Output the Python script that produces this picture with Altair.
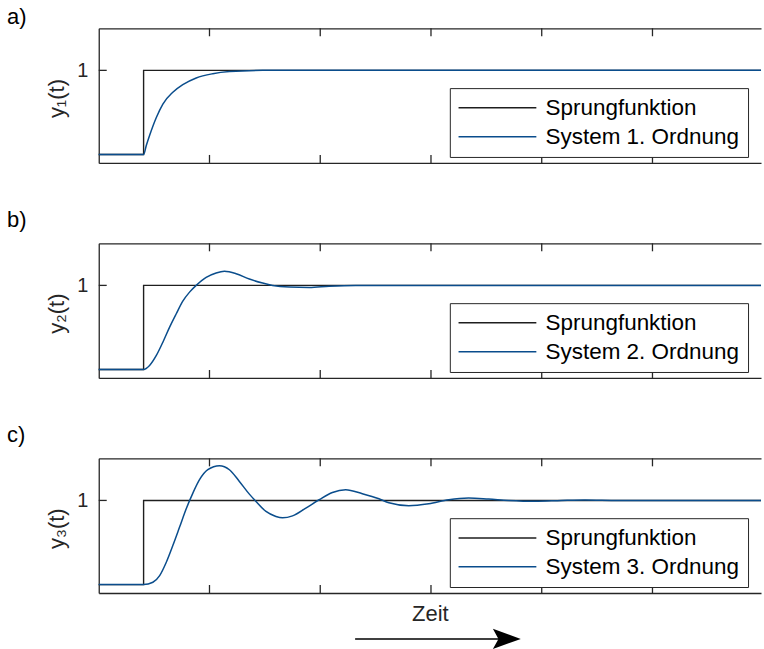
import altair as alt
import pandas as pd

# ---------------- data ----------------
series_names = ["Sprungfunktion", "System 1. Ordnung", "System 2. Ordnung", "System 3. Ordnung"]
panel_tags = ["a)", "b)", "c)"]
y_titles = ["y\u2081(t)", "y\u2082(t)", "y\u2083(t)"]
x_title = "Zeit"

x_domain = [0, 5.98]
y_domain = [-0.1, 1.5]
x_ticks = [1, 2, 3, 4, 5]
y_ticks = [1]

step_t = [0.0, 0.405, 0.405, 5.98]
step_y = [0.0, 0.0, 1.0, 1.0]

sys1_t = [0.0, 0.405, 0.43, 0.459, 0.52, 0.579, 0.669, 0.759, 0.88, 1.03, 1.18, 1.48, 5.98]
sys1_y = [0.0, 0.0, 0.11, 0.226, 0.44, 0.60, 0.74, 0.83, 0.91, 0.96, 0.985, 1.0, 1.0]

sys2_t = [0.0, 0.405, 0.459, 0.52, 0.579, 0.64, 0.70, 0.759, 0.82, 0.88, 0.97, 1.06,
          1.135, 1.24, 1.36, 1.48, 1.57, 1.72, 1.90, 2.08, 2.32, 5.98]
sys2_y = [0.0, 0.0, 0.048, 0.167, 0.325, 0.504, 0.663, 0.813, 0.92, 1.0, 1.095, 1.147,
          1.167, 1.139, 1.075, 1.028, 1.0, 0.98, 0.975, 0.99, 1.0, 1.0]

sys3_t = [0.0, 0.405, 0.489, 0.55, 0.61, 0.669, 0.73, 0.79, 0.85, 0.91, 0.985, 1.09,
          1.18, 1.27, 1.36, 1.42, 1.51, 1.60, 1.66, 1.75, 1.87, 1.99, 2.11, 2.23,
          2.38, 2.53, 2.62, 2.80, 2.98, 3.16, 3.34, 3.52, 3.70, 3.94, 4.18, 4.39,
          4.69, 5.98]
sys3_y = [0.0, 0.0, 0.028, 0.107, 0.266, 0.464, 0.683, 0.901, 1.087, 1.246, 1.365, 1.413,
          1.365, 1.226, 1.075, 0.988, 0.869, 0.81, 0.794, 0.817, 0.909, 1.008, 1.095, 1.127,
          1.08, 1.02, 0.972, 0.937, 0.96, 1.008, 1.028, 1.016, 1.0, 0.99, 1.0, 1.006,
          1.0, 1.0]

arrow_t = [2.315, 3.64]
arrow_head_t = [3.685]

systems = [(sys1_t, sys1_y), (sys2_t, sys2_y), (sys3_t, sys3_y)]

# ---------------- styling ----------------
W, H = 664, 135
BLUE = "#0A4D8C"
BLACK = "#1E1E1E"
AX = "#262626"
FONT = "Liberation Sans"
tag_y = [-4, -16.5, -16.5]


def panel(i):
    sys_t, sys_y = systems[i]
    name = series_names[i + 1]
    step_df = pd.DataFrame({"t": step_t, "y": step_y, "k": list(range(len(step_t))),
                            "s": series_names[0]})
    sys_df = pd.DataFrame({"t": sys_t, "y": sys_y, "k": list(range(len(sys_t))), "s": name})

    xs = alt.Scale(domain=x_domain, nice=False, zero=False)
    ys = alt.Scale(domain=y_domain, nice=False, zero=False)

    color = alt.Color(
        "s:N",
        sort=[series_names[0], name],
        scale=alt.Scale(domain=[series_names[0], name], range=[BLACK, BLUE]),
        legend=alt.Legend(
            title=None, orient="none", legendX=352, legendY=60, direction="vertical",
            symbolType="M -6 0 L 6 0", symbolSize=169, symbolStrokeWidth=1.5,
            symbolOffset=28, labelOffset=37,
            labelFont=FONT, labelFontSize=22.5, labelColor="#000000", labelLimit=400,
            strokeColor=AX, fillColor="white", padding=8.5, rowPadding=6,
        ),
    )

    bottom_kw = dict(orient="bottom", labels=False, ticks=False, tickSize=0, grid=False,
                     domain=True, domainColor=AX, domainWidth=1.3)
    if i == 2:
        bottom_kw.update(title=x_title, titleFont=FONT, titleFontSize=22,
                         titleFontWeight="normal", titleColor=AX, titlePadding=11)
    else:
        bottom_kw.update(title=None)

    left_axis = alt.Axis(
        orient="left", values=y_ticks, labels=True, ticks=False, tickSize=0, grid=False,
        domain=True, domainColor=AX, domainWidth=1.3,
        labelFont=FONT, labelFontSize=20, labelColor=AX, labelPadding=11,
        title=y_titles[i], titleFont=FONT, titleFontSize=22, titleFontWeight="normal",
        titleColor=AX, titleAngle=270, titleX=-42, titleY=70,
        titleBaseline="middle", titleAlign="center",
    )
    y_enc = alt.Y("y:Q", scale=ys, axis=left_axis)

    step = alt.Chart(step_df).mark_line(strokeWidth=1.4).encode(
        x=alt.X("t:Q", scale=xs, axis=alt.Axis(**bottom_kw)),
        y=y_enc,
        color=color,
        order=alt.Order("k:Q"),
    )
    sys = alt.Chart(sys_df).mark_line(strokeWidth=1.5, interpolate="monotone").encode(
        x=alt.X("t:Q", scale=xs, axis=None),
        y=y_enc,
        color=color,
        order=alt.Order("k:Q"),
    )

    ticks_df = pd.DataFrame({"t": x_ticks})
    bottom_ticks = alt.Chart(ticks_df).mark_rule(color=AX, strokeWidth=1.3).encode(
        x=alt.X("t:Q", scale=xs, axis=None),
        y=alt.value(H), y2=alt.value(H - 8),
    )
    top_ticks = alt.Chart(ticks_df).mark_rule(color=AX, strokeWidth=1.3).encode(
        x=alt.X("t:Q", scale=xs, axis=alt.Axis(orient="top", labels=False, ticks=False,
                                                tickSize=0, grid=False, domain=True,
                                                domainColor=AX, domainWidth=1.3, title=None)),
        y=alt.value(0), y2=alt.value(8),
    )
    ytick = alt.Chart(pd.DataFrame({"y": y_ticks})).mark_rule(color=AX, strokeWidth=1.3).encode(
        y=y_enc,
        x=alt.value(0), x2=alt.value(8),
    )
    tag = alt.Chart(pd.DataFrame({"tag": [panel_tags[i]]})).mark_text(
        align="left", baseline="alphabetic", font=FONT, fontSize=22, color="#000000"
    ).encode(text="tag:N", x=alt.value(-92), y=alt.value(tag_y[i]))

    layers = [step, sys, bottom_ticks, top_ticks, ytick, tag]

    if i == 2:
        arrow_df = pd.DataFrame({"t0": [arrow_t[0]], "t1": [arrow_t[1]]})
        arrow_line = alt.Chart(arrow_df).mark_rule(color="#000000", strokeWidth=1.5).encode(
            x=alt.X("t0:Q", scale=xs, axis=None), x2="t1:Q", y=alt.value(181),
        )
        arrow_head = alt.Chart(pd.DataFrame({"t": arrow_head_t})).mark_point(
            shape="M -1 -0.72 L 1 0 L -1 0.72 L -0.6 0 Z", filled=True, size=784,
            color="#000000", opacity=1, strokeWidth=0,
        ).encode(x=alt.X("t:Q", scale=xs, axis=None), y=alt.value(181))
        layers += [arrow_line, arrow_head]

    return alt.layer(*layers).resolve_axis(x="independent").properties(width=W, height=H)


chart = alt.vconcat(panel(0), panel(1), panel(2), spacing=80.6, bounds="flush").resolve_scale(
    color="independent"
).properties(
    padding={"left": 7, "top": 5.5, "right": 0, "bottom": 0}
).configure_view(stroke=None)

chart.save("out.html", embed_options={"renderer": "svg", "actions": False})
